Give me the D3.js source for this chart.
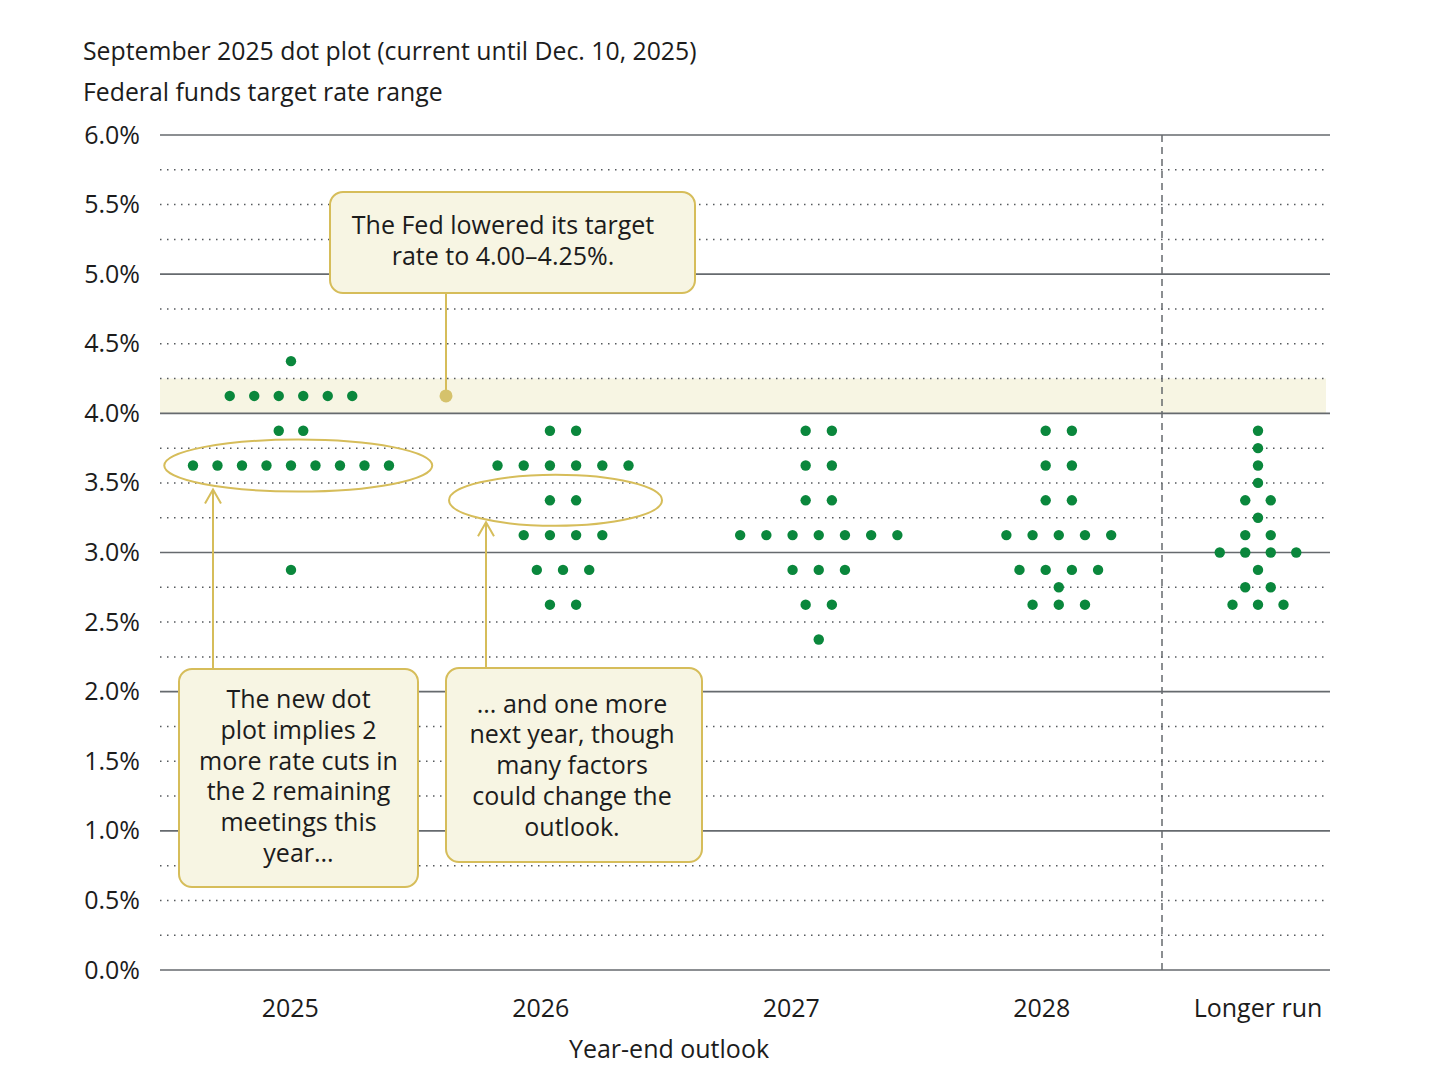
<!DOCTYPE html>
<html>
<head>
<meta charset="utf-8">
<script src="https://cdn.jsdelivr.net/npm/d3@7"></script>
<style>
  body { margin: 0; background: #fff; }
  text { font-family: "Open Sans", Lato, sans-serif; fill: #1c1c1c; }
</style>
</head>
<body>
<div class="chart"></div>
<script>
var svgWidth = 1456;
var svgHeight = 1092;

var margin = {
  top: 135,
  right: 126,
  bottom: 122,
  left: 160
};

var width = svgWidth - margin.left - margin.right;
var height = svgHeight - margin.top - margin.bottom;

// categories along the bottom
var categories = ["2025", "2026", "2027", "2028", "Longer run"];

// participant projections: rate level and how many dots sit on it
var dots2025 = [
  { rate: 4.375, n: 1 }, { rate: 4.125, n: 6 }, { rate: 3.875, n: 2 },
  { rate: 3.625, n: 9 }, { rate: 2.875, n: 1 }
];
var dots2026 = [
  { rate: 3.875, n: 2 }, { rate: 3.625, n: 6 }, { rate: 3.375, n: 2 },
  { rate: 3.125, n: 4 }, { rate: 2.875, n: 3 }, { rate: 2.625, n: 2 }
];
var dots2027 = [
  { rate: 3.875, n: 2 }, { rate: 3.625, n: 2 }, { rate: 3.375, n: 2 },
  { rate: 3.125, n: 7 }, { rate: 2.875, n: 3 }, { rate: 2.625, n: 2 },
  { rate: 2.375, n: 1 }
];
var dots2028 = [
  { rate: 3.875, n: 2 }, { rate: 3.625, n: 2 }, { rate: 3.375, n: 2 },
  { rate: 3.125, n: 5 }, { rate: 2.875, n: 4 }, { rate: 2.75, n: 1 },
  { rate: 2.625, n: 3 }
];
var dotsLonger = [
  { rate: 3.875, n: 1 }, { rate: 3.75, n: 1 }, { rate: 3.625, n: 1 },
  { rate: 3.5, n: 1 }, { rate: 3.375, n: 2 }, { rate: 3.25, n: 1 },
  { rate: 3.125, n: 2 }, { rate: 3.0, n: 4 }, { rate: 2.875, n: 1 },
  { rate: 2.75, n: 2 }, { rate: 2.625, n: 3 }
];
var dotColumns = [dots2025, dots2026, dots2027, dots2028, dotsLonger];

// current target range
var targetRange = [4.0, 4.25];

// y tick values
var yTickValues = [0, 0.5, 1, 1.5, 2, 2.5, 3, 3.5, 4, 4.5, 5, 5.5, 6];

// annotation text
var fedNote = ["The Fed lowered its target", "rate to 4.00\u20134.25%."];
var note2025 = ["The new dot", "plot implies 2", "more rate cuts in", "the 2 remaining", "meetings this", "year..."];
var note2026 = ["... and one more", "next year, though", "many factors", "could change the", "outlook."];

// styling for the dot columns (gap between dots, sideways nudge in gaps)
var dotGap = [24.5, 26.2, 26.2, 26.2, 25.5];
var dotShift = [0.03, 0.85, 1.05, 0.65, 0];

var gold = "#d6bd5a";
var cream = "#f7f5e3";
var green = "#0a873c";
var gridGrey = "#666a6e";
var fontSize = "25px";

var svg = d3
  .select(".chart")
  .append("svg")
  .attr("width", svgWidth)
  .attr("height", svgHeight);

var chartGroup = svg.append("g")
  .attr("transform", `translate(${margin.left}, ${margin.top})`);

// scales
var yScale = d3.scaleLinear()
  .domain([0, 6])
  .range([height, 0]);

var dividerX = 1002;

var xYears = d3.scaleBand()
  .domain(categories.slice(0, 4))
  .range([5, dividerX + 5]);

function colCenter(cat) {
  if (cat === "Longer run") return (dividerX + width) / 2 + 12;
  return xYears(cat) + xYears.bandwidth() / 2;
}

// shaded target range band
chartGroup.append("rect")
  .attr("x", 0)
  .attr("y", yScale(targetRange[1]))
  .attr("width", width - 4)
  .attr("height", yScale(targetRange[0]) - yScale(targetRange[1]))
  .attr("fill", cream);

// dotted gridlines every quarter point
var quarterLines = d3.range(0.25, 6, 0.25).filter(d => d % 1 !== 0);
chartGroup.append("g")
  .selectAll("line")
  .data(quarterLines)
  .enter()
  .append("line")
  .attr("x1", 0)
  .attr("x2", width - 3)
  .attr("y1", d => yScale(d))
  .attr("y2", d => yScale(d))
  .attr("stroke", "#55595d")
  .attr("stroke-width", 1.5)
  .attr("stroke-dasharray", "1.5,5.5");

// solid gridlines on whole points
chartGroup.append("g")
  .selectAll("line")
  .data(d3.range(0, 7))
  .enter()
  .append("line")
  .attr("x1", 0)
  .attr("x2", width)
  .attr("y1", d => yScale(d))
  .attr("y2", d => yScale(d))
  .attr("stroke", gridGrey)
  .attr("stroke-width", 1.6);

// y axis labels
var leftAxis = d3.axisLeft(yScale)
  .tickValues(yTickValues)
  .tickSize(0)
  .tickPadding(20)
  .tickFormat(d => d.toFixed(1) + "%");

var yAxis = chartGroup.append("g").call(leftAxis);
yAxis.select(".domain").remove();
yAxis.selectAll("text")
  .style("font-family", "'Open Sans', Lato, sans-serif")
  .style("font-size", fontSize)
  .attr("fill", "#1c1c1c");

// divider before the longer run column
chartGroup.append("line")
  .attr("x1", dividerX)
  .attr("x2", dividerX)
  .attr("y1", 0)
  .attr("y2", height)
  .attr("stroke", gridGrey)
  .attr("stroke-width", 1.5)
  .attr("stroke-dasharray", "7,5");

// x labels
chartGroup.append("g")
  .selectAll("text")
  .data(categories)
  .enter()
  .append("text")
  .attr("x", d => colCenter(d))
  .attr("y", height + 47)
  .attr("text-anchor", "middle")
  .style("font-size", fontSize)
  .text(d => d);

chartGroup.append("text")
  .attr("x", 509)
  .attr("y", height + 88)
  .attr("text-anchor", "middle")
  .style("font-size", fontSize)
  .text("Year-end outlook");

// titles
svg.append("text")
  .attr("x", 83)
  .attr("y", 60)
  .style("font-size", "24.8px")
  .text("September 2025 dot plot (current until Dec. 10, 2025)");

svg.append("text")
  .attr("x", 83)
  .attr("y", 101)
  .style("font-size", "24.8px")
  .text("Federal funds target rate range");

// flatten dots
var dotData = [];
categories.forEach(function(cat, i) {
  dotColumns[i].forEach(function(row) {
    for (var j = 0; j < row.n; j++) {
      dotData.push({
        cat: cat,
        rate: row.rate,
        offset: (j - (row.n - 1) / 2 + dotShift[i]) * dotGap[i]
      });
    }
  });
});

// annotations drawn under the dots where they overlap
var notes = chartGroup.append("g");

// ellipses
notes.append("ellipse")
  .attr("cx", colCenter("2025") + 8)
  .attr("cy", yScale(3.625))
  .attr("rx", 134)
  .attr("ry", 26)
  .attr("fill", "none")
  .attr("stroke", gold)
  .attr("stroke-width", 2);

notes.append("ellipse")
  .attr("cx", colCenter("2026") + dotShift[1] * dotGap[1] - 7.5)
  .attr("cy", yScale(3.375))
  .attr("rx", 106.5)
  .attr("ry", 25.5)
  .attr("fill", "none")
  .attr("stroke", gold)
  .attr("stroke-width", 2);

// green dots
chartGroup.append("g")
  .selectAll("circle")
  .data(dotData)
  .enter()
  .append("circle")
  .attr("cx", d => colCenter(d.cat) + d.offset)
  .attr("cy", d => yScale(d.rate))
  .attr("r", 5.2)
  .attr("fill", green);

function drawBox(x, y, w, h, lines, cx, firstBase, lineH) {
  var g = chartGroup.append("g");
  g.append("rect")
    .attr("x", x)
    .attr("y", y)
    .attr("width", w)
    .attr("height", h)
    .attr("rx", 13)
    .attr("fill", cream)
    .attr("stroke", gold)
    .attr("stroke-width", 2);
  g.selectAll("text")
    .data(lines)
    .enter()
    .append("text")
    .attr("x", cx)
    .attr("y", (d, i) => firstBase + i * lineH)
    .attr("text-anchor", "middle")
    .style("font-size", fontSize)
    .text(d => d);
}

function drawArrow(x, yFrom, yTip) {
  chartGroup.append("line")
    .attr("x1", x).attr("x2", x)
    .attr("y1", yFrom).attr("y2", yTip)
    .attr("stroke", gold)
    .attr("stroke-width", 2);
  chartGroup.append("path")
    .attr("d", `M${x - 8},${yTip + 14} L${x},${yTip} L${x + 8},${yTip + 14}`)
    .attr("fill", "none")
    .attr("stroke", gold)
    .attr("stroke-width", 2);
}

// Fed note with pin to the band
chartGroup.append("line")
  .attr("x1", 286).attr("x2", 286)
  .attr("y1", 158)
  .attr("y2", yScale(4.125))
  .attr("stroke", gold)
  .attr("stroke-width", 2);

chartGroup.append("circle")
  .attr("cx", 286)
  .attr("cy", yScale(4.125))
  .attr("r", 6.5)
  .attr("fill", "#d5c26c");

drawBox(170, 57, 365, 101, fedNote, 343, 99, 31);

// 2025 note
drawArrow(53, 534, yScale(3.625) + 24);
drawBox(19, 534, 239, 218, note2025, 138.5, 573, 30.8);

// 2026 note
drawArrow(326, 533, yScale(3.375) + 22);
drawBox(286, 533, 256, 194, note2026, 412, 577.5, 30.8);
</script>
</body>
</html>
